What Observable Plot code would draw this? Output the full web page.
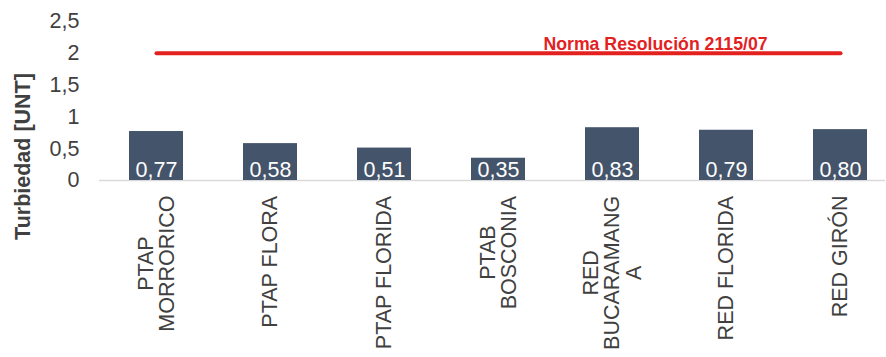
<!DOCTYPE html>
<html><head><meta charset="utf-8">
<script src="https://cdn.jsdelivr.net/npm/d3@7"></script>
<script src="https://cdn.jsdelivr.net/npm/@observablehq/plot@0.6"></script>
<style>body{margin:0;background:#fff} svg{display:block}</style>
</head><body><div id="chart"></div>
<script>
const categories = ["PTAP MORRORICO","PTAP FLORA","PTAP FLORIDA","PTAB BOSCONIA","RED BUCARAMANGA","RED FLORIDA","RED GIRÓN"];
const categoryLabels = ["PTAP\nMORRORICO","PTAP FLORA","PTAP FLORIDA","PTAB\nBOSCONIA","RED\nBUCARAMANG\nA","RED FLORIDA","RED GIRÓN"];
const turbidity = [0.77,0.58,0.51,0.35,0.83,0.79,0.80];
const normaValue = 2;
const normaLabel = "Norma Resolución 2115/07";
const yTicks = [0,0.5,1,1.5,2,2.5];
const yTitle = "Turbiedad [UNT]";

const data = categories.map((c,i)=>({cat:c, label:categoryLabels[i], value:turbidity[i]}));
const normaLine = [{cat:categories[0], v:normaValue},{cat:categories[categories.length-1], v:normaValue}];
const fmtTick = d => String(d).replace(".", ",");
const fmtVal = d => d.toFixed(2).replace(".", ",");
const font = "'Liberation Sans', Arial, sans-serif";

const chart = Plot.plot({
  width: 886, height: 357,
  marginLeft: 99, marginRight: 1, marginTop: 21, marginBottom: 177,
  style: {fontFamily: font, fontSize: "21.5px", color: "#404040", background: "#fff"},
  x: {type: "band", domain: categories, range: [99, 897], paddingInner: 0.526, paddingOuter: 0.263, axis: null},
  y: {domain: [0, 2.5], ticks: yTicks, tickFormat: fmtTick, tickSize: 0, tickPadding: 20, label: null},
  marks: [
    Plot.ruleY([0], {stroke: "#d9d9d9", strokeWidth: 1.5}),
    Plot.barY(data, {x: "cat", y: "value", fill: "#44546a"}),
    Plot.text(data, {x: "cat", y: 0, text: d => fmtVal(d.value), fill: "white", fontSize: 21.5, lineAnchor: "bottom", dy: -4}),
    Plot.lineY(normaLine, {x: "cat", y: "v", stroke: "#e3221f", strokeWidth: 4, strokeLinecap: "round"}),
    Plot.text([{cat: categories[4], v: normaValue, t: normaLabel}], {x: "cat", y: "v", text: "t", fill: "#e3221f", fontWeight: "bold", fontSize: 17.7, lineAnchor: "bottom", dx: 43, dy: -3}),
    Plot.text(data, {x: "cat", y: 0, text: "label", rotate: -90, textAnchor: "end", lineAnchor: "middle", dy: 15, fontSize: 21.5, fill: "#404040", ariaLabel: () => "category-labels"}),
    Plot.text([yTitle], {frameAnchor: "left", textAnchor: "middle", rotate: -90, dx: -76, dy: 55.5, fontWeight: "bold", fontSize: 21.5, fill: "#404040"})
  ]
});
document.getElementById("chart").appendChild(chart);
chart.querySelectorAll('text[aria-label="category-labels"], g[aria-label="category-labels"] text').forEach(t => {
  const w = t.getBBox().width;
  t.setAttribute("text-anchor", "middle");
  t.querySelectorAll("tspan").forEach(s => s.setAttribute("text-anchor", "middle"));
  const tr = t.getAttribute("transform") || "";
  t.setAttribute("transform", tr + ` translate(${-w/2},0)`);
});
</script>
</body></html>
